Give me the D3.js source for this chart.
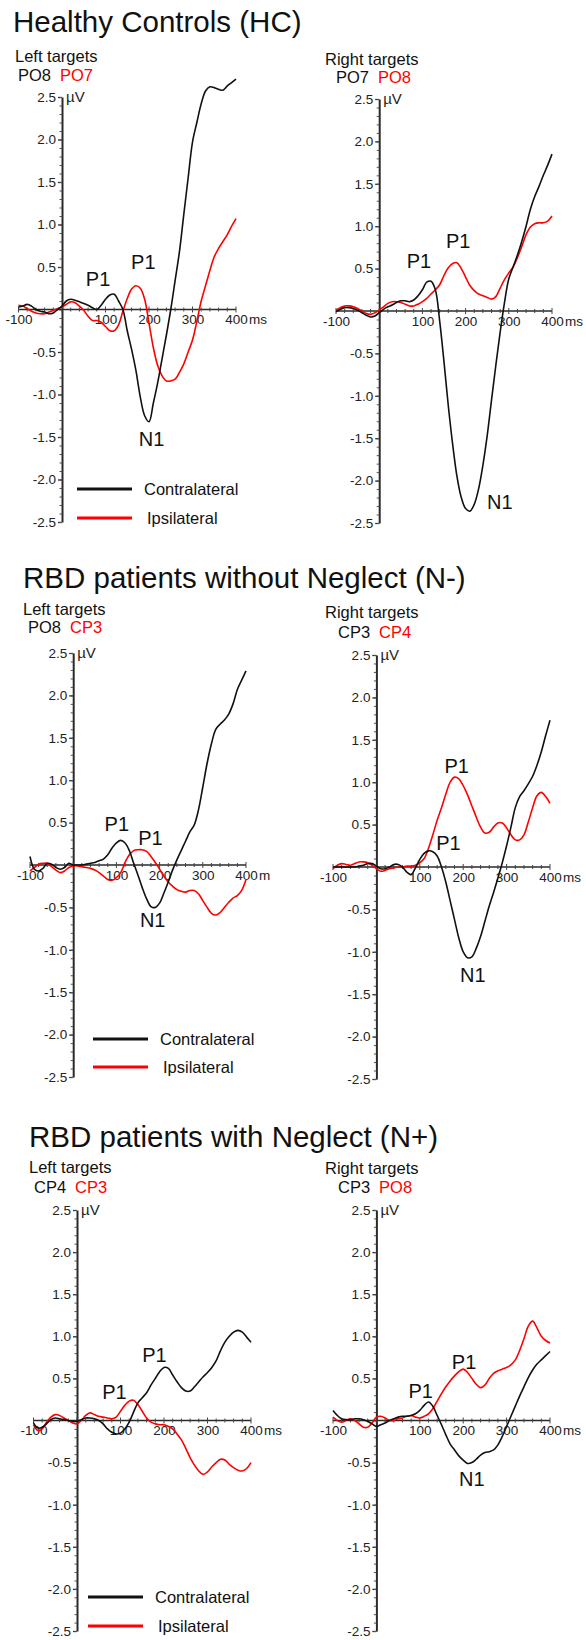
<!DOCTYPE html>
<html><head><meta charset="utf-8">
<script src="https://cdn.jsdelivr.net/npm/d3@7"></script>
<style>
body{margin:0;background:#fff}
svg{display:block}
text{font-family:"Liberation Sans",Arial,Helvetica,sans-serif}
</style>
</head><body>
<svg id="chart" width="586" height="1640"></svg>
<script>
// ---------- DATA ----------
const sampleMs = [-100,-90,-80,-70,-60,-50,-40,-30,-20,-10,0,10,20,30,40,50,60,70,80,90,100,110,120,130,140,150,160,170,180,190,200,210,220,230,240,250,260,270,280,290,300,310,320,330,340,350,360,370,380,390,400];

const groupTitles = ["Healthy Controls (HC)", "RBD patients without Neglect (N-)", "RBD patients with Neglect (N+)"];
const sideLabels = ["Left targets", "Right targets"];
const electrodePairs = [["PO8","PO7"],["PO7","PO8"],["PO8","CP3"],["CP3","CP4"],["CP4","CP3"],["CP3","PO8"]];
const legendLabels = ["Contralateral", "Ipsilateral"];
const yTickValues = [2.5,2.0,1.5,1.0,0.5,-0.5,-1.0,-1.5,-2.0,-2.5];
const xTickValues = [-100,100,200,300,400];
const timeUnits = ["ms","ms","m","ms","ms","ms"];

// Healthy controls
const hcLeftContra = [0.03,0.04,0.06,0.04,0.00,-0.02,-0.03,-0.05,-0.04,0.00,
 0.04,0.10,0.12,0.11,0.09,0.07,0.05,0.02,0.00,0.05,
 0.12,0.17,0.18,0.10,0.00,-0.25,-0.47,-0.72,-1.03,-1.25,
 -1.32,-1.10,-0.86,-0.58,-0.30,0.00,0.34,0.68,1.12,1.55,
 1.97,2.20,2.42,2.57,2.62,2.61,2.59,2.58,2.63,2.67,2.71];
const hcLeftIpsi = [0.05,0.04,0.01,-0.02,-0.04,-0.05,-0.05,-0.03,-0.01,0.01,
 0.03,0.06,0.09,0.08,0.04,-0.01,-0.08,-0.13,-0.13,-0.15,
 -0.20,-0.25,-0.25,-0.18,-0.02,0.13,0.24,0.28,0.25,0.12,
 -0.16,-0.45,-0.66,-0.78,-0.84,-0.84,-0.82,-0.74,-0.64,-0.50,
 -0.36,-0.14,0.10,0.28,0.46,0.62,0.72,0.80,0.88,0.98,1.07];
const hcRightContra = [-0.01,0.02,0.04,0.04,0.03,0.01,-0.02,-0.05,-0.07,-0.06,
 -0.02,0.02,0.05,0.07,0.10,0.12,0.12,0.11,0.13,0.18,
 0.25,0.34,0.35,0.25,-0.12,-0.60,-1.12,-1.57,-1.95,-2.20,
 -2.33,-2.36,-2.28,-2.10,-1.82,-1.47,-1.05,-0.64,-0.25,0.10,
 0.38,0.52,0.66,0.82,1.00,1.20,1.35,1.47,1.60,1.72,1.85];
const hcRightIpsi = [0.01,0.04,0.06,0.06,0.05,0.03,0.00,-0.03,-0.04,-0.02,
 0.01,0.05,0.09,0.11,0.11,0.10,0.08,0.06,0.06,0.08,
 0.11,0.15,0.20,0.25,0.31,0.42,0.51,0.56,0.57,0.50,
 0.40,0.30,0.24,0.20,0.18,0.16,0.14,0.17,0.27,0.37,
 0.45,0.52,0.63,0.76,0.90,0.99,1.03,1.04,1.04,1.06,1.12];

// RBD without neglect (N-)
const nmLeftContra = [0.10,-0.05,-0.07,-0.04,0.02,0.01,-0.03,-0.05,-0.03,0.02,
 0.00,0.00,0.00,0.01,0.02,0.03,0.05,0.07,0.12,0.20,
 0.26,0.29,0.26,0.17,0.02,-0.12,-0.27,-0.40,-0.49,-0.50,
 -0.45,-0.33,-0.20,-0.06,0.06,0.17,0.28,0.39,0.47,0.65,
 0.92,1.20,1.43,1.60,1.66,1.71,1.78,1.90,2.07,2.18,2.29];
const nmLeftIpsi = [-0.07,-0.03,0.01,0.02,0.02,-0.02,-0.06,-0.09,-0.07,-0.03,
 -0.01,-0.01,-0.02,-0.03,-0.04,-0.06,-0.09,-0.13,-0.17,-0.18,
 -0.15,-0.09,0.03,0.12,0.17,0.18,0.18,0.16,0.10,0.03,
 -0.05,-0.13,-0.20,-0.25,-0.29,-0.31,-0.32,-0.30,-0.30,-0.34,
 -0.42,-0.50,-0.57,-0.59,-0.56,-0.50,-0.44,-0.39,-0.36,-0.30,-0.17];
const nmRightContra = [0.00,0.00,0.00,0.00,0.00,0.00,0.01,0.02,0.04,0.04,
 0.01,-0.02,-0.02,0.00,0.03,0.03,0.00,-0.06,-0.09,-0.01,
 0.09,0.16,0.19,0.18,0.13,0.00,-0.18,-0.40,-0.62,-0.84,
 -1.00,-1.07,-1.06,-0.96,-0.82,-0.64,-0.46,-0.30,-0.13,0.05,
 0.25,0.47,0.70,0.83,0.90,0.98,1.07,1.20,1.36,1.55,1.73];
const nmRightIpsi = [-0.02,0.02,0.04,0.03,0.02,0.04,0.06,0.06,0.05,0.02,
 -0.02,-0.05,-0.04,-0.02,-0.01,0.00,0.00,0.01,0.01,0.02,
 0.05,0.10,0.22,0.38,0.55,0.70,0.86,1.00,1.06,1.04,
 0.96,0.85,0.72,0.59,0.47,0.40,0.41,0.47,0.52,0.52,
 0.46,0.38,0.32,0.32,0.38,0.53,0.70,0.84,0.88,0.83,0.75];

// RBD with neglect (N+)
const npLeftContra = [-0.03,-0.09,-0.08,-0.04,0.01,0.03,0.02,0.01,0.00,-0.01,
 -0.01,0.01,0.03,0.03,0.02,0.00,-0.04,-0.10,-0.14,-0.16,
 -0.15,-0.10,-0.02,0.10,0.21,0.27,0.33,0.42,0.50,0.58,
 0.63,0.62,0.54,0.46,0.39,0.35,0.35,0.40,0.46,0.52,
 0.57,0.63,0.71,0.83,0.93,1.00,1.05,1.07,1.05,0.99,0.93];
const npLeftIpsi = [-0.05,-0.12,-0.10,-0.02,0.04,0.07,0.06,0.03,0.00,-0.03,
 -0.04,0.00,0.06,0.09,0.07,0.05,0.04,0.03,0.02,0.04,
 0.11,0.18,0.23,0.24,0.19,0.11,0.03,-0.02,-0.04,-0.05,
 -0.05,-0.07,-0.10,-0.16,-0.23,-0.33,-0.44,-0.53,-0.60,-0.64,
 -0.61,-0.55,-0.50,-0.46,-0.47,-0.52,-0.56,-0.59,-0.60,-0.57,-0.50];
const npRightContra = [0.12,0.06,0.02,0.01,0.01,0.02,0.02,0.01,-0.01,-0.04,
 -0.07,-0.05,-0.03,0.00,0.02,0.04,0.05,0.05,0.06,0.08,
 0.12,0.18,0.22,0.17,0.06,-0.05,-0.17,-0.28,-0.35,-0.42,
 -0.47,-0.51,-0.50,-0.46,-0.41,-0.38,-0.37,-0.35,-0.29,-0.19,
 -0.07,0.05,0.17,0.29,0.40,0.51,0.60,0.67,0.72,0.77,0.82];
const npRightIpsi = [0.04,0.00,-0.02,0.00,0.02,0.00,-0.04,-0.08,-0.08,-0.03,
 0.04,0.05,0.03,0.00,0.00,0.02,0.03,0.05,0.06,0.04,
 0.03,0.05,0.08,0.14,0.23,0.32,0.40,0.47,0.53,0.58,
 0.61,0.57,0.50,0.43,0.39,0.42,0.50,0.56,0.59,0.61,
 0.63,0.66,0.72,0.83,0.97,1.12,1.18,1.10,1.00,0.95,0.92];

// ---------- LAYOUT ----------
const titlePos = [[13,32],[23,588],[29,1147]];
const panels = [
 {contra:hcLeftContra, ipsi:hcLeftIpsi, side:0, box:[18.5,236,97,522], sideAt:[15,62], elecAt:[18,81],
  legend:{x1:77,x2:132,y1:489,y2:518,t1:144,t2:147},
  peaks:[["P1",83,0.28],["P1",187,0.48],["N1",206,-1.6]]},
 {contra:hcRightContra, ipsi:hcRightIpsi, side:1, box:[336,552,99,523], sideAt:[325,65], elecAt:[336,83],
  peaks:[["P1",92,0.51],["P1",183,0.74],["N1",279,-2.33]]},
 {contra:nmLeftContra, ipsi:nmLeftIpsi, side:0, box:[30,246,653,1077], sideAt:[23,615], elecAt:[28,633],
  legend:{x1:93,x2:148,y1:1039,y2:1067,t1:160,t2:163},
  peaks:[["P1",101,0.4],["P1",179,0.24],["N1",184,-0.73]]},
 {contra:nmRightContra, ipsi:nmRightIpsi, side:1, box:[333,550,655,1079], sideAt:[325,618], elecAt:[338,638],
  peaks:[["P1",185,1.11],["P1",166,0.2],["N1",222,-1.36]]},
 {contra:npLeftContra, ipsi:npLeftIpsi, side:0, box:[33.5,251,1210,1631], sideAt:[29,1173], elecAt:[34,1193],
  legend:{x1:88,x2:143,y1:1597,y2:1626,t1:155,t2:158},
  peaks:[["P1",86,0.26],["P1",178,0.69]]},
 {contra:npRightContra, ipsi:npRightIpsi, side:1, box:[333,550,1210,1631], sideAt:[325,1174], elecAt:[338,1193],
  peaks:[["P1",102,0.27],["P1",202,0.61],["N1",220,-0.78]]}
];

const RED = "#ff0000", BLACK = "#111", AXIS = "#2a2a2a";
const svg = d3.select("#chart");
svg.append("rect").attr("width",586).attr("height",1640).attr("fill","#fff");

groupTitles.forEach((t,i)=>{
  svg.append("text").attr("x",titlePos[i][0]).attr("y",titlePos[i][1])
    .attr("font-size",29.5).attr("fill",BLACK).text(t);
});

panels.forEach((p,pi)=>{
  const [xl,xr,top,bottom] = p.box;
  const x = d3.scaleLinear().domain([-100,400]).range([xl,xr]);
  const y = d3.scaleLinear().domain([-2.5,2.5]).range([bottom,top]);
  const g = svg.append("g");
  const x0 = x(0), y0 = y(0);

  // side label & electrodes
  g.append("text").attr("x",p.sideAt[0]).attr("y",p.sideAt[1]).attr("font-size",16.5).attr("fill",BLACK).text(sideLabels[p.side]);
  const et = g.append("text").attr("x",p.elecAt[0]).attr("y",p.elecAt[1]).attr("font-size",16.5);
  et.append("tspan").attr("fill",BLACK).text(electrodePairs[pi][0]);
  et.append("tspan").attr("fill",RED).attr("dx",9).text(electrodePairs[pi][1]);

  // y axis (major, labelled)
  const yAx = d3.axisLeft(y).tickValues(yTickValues).tickFormat(d=>d.toFixed(1)).tickSize(4).tickSizeOuter(0).tickPadding(2);
  const ya = g.append("g").attr("transform",`translate(${x0},0)`).call(yAx);
  ya.select(".domain").attr("stroke",AXIS).attr("stroke-width",2);
  ya.selectAll(".tick line").attr("stroke",AXIS).attr("stroke-width",1.3);
  ya.selectAll(".tick text").attr("font-size",13.5).attr("fill","#222")
    .attr("font-family","'Liberation Sans',Arial,sans-serif");
  // minor ticks every 0.1 µV
  const minorY = d3.range(-25,26).map(i=>i/10);
  const yMin = d3.axisLeft(y).tickValues(minorY).tickFormat("").tickSize(2.5).tickSizeOuter(0);
  const ym = g.append("g").attr("transform",`translate(${x0},0)`).call(yMin);
  ym.select(".domain").remove();
  ym.selectAll(".tick line").attr("stroke","#555").attr("stroke-width",1);
  g.append("text").attr("x",x0+4).attr("y",y(2.5)).attr("dy","0.36em").attr("font-size",15).attr("fill","#222").text("µV");

  // x axis
  g.append("line").attr("x1",x(-100)).attr("x2",x(400)).attr("y1",y0).attr("y2",y0).attr("stroke",AXIS).attr("stroke-width",1.5);
  const minorX = d3.range(-100,401,20);
  g.selectAll(".xmin").data(minorX).join("line")
    .attr("x1",d=>x(d)).attr("x2",d=>x(d))
    .attr("y1",d=>y0-(d%100===0?3:2)).attr("y2",d=>y0+(d%100===0?3:2))
    .attr("stroke","#444").attr("stroke-width",1);
  const xAx = d3.axisBottom(x).tickValues(xTickValues).tickFormat(d=>String(d)).tickSize(0).tickPadding(5);
  const xa = g.append("g").attr("transform",`translate(0,${y0})`).call(xAx);
  xa.select(".domain").remove();
  xa.selectAll(".tick text").attr("font-size",13.5).attr("fill","#222")
    .attr("font-family","'Liberation Sans',Arial,sans-serif");
  g.append("text").attr("x",x(400)+13).attr("y",y0+5).attr("dy","0.71em").attr("font-size",13.5).attr("fill","#222").text(timeUnits[pi]);

  // curves
  const line = d3.line().x((d,i)=>x(sampleMs[i])).y(d=>y(d)).curve(d3.curveCatmullRom.alpha(0.5));
  g.append("path").datum(p.ipsi).attr("d",line).attr("fill","none").attr("stroke",RED).attr("stroke-width",1.6);
  g.append("path").datum(p.contra).attr("d",line).attr("fill","none").attr("stroke",BLACK).attr("stroke-width",1.6);

  // peak labels
  p.peaks.forEach(([t,ms,uv])=>{
    g.append("text").attr("x",x(ms)).attr("y",y(uv)).attr("text-anchor","middle")
      .attr("font-size",20).attr("fill",BLACK).text(t);
  });

  // legend
  if (p.legend) {
    const L = p.legend;
    g.append("line").attr("x1",L.x1).attr("x2",L.x2).attr("y1",L.y1).attr("y2",L.y1).attr("stroke",BLACK).attr("stroke-width",3.2);
    g.append("text").attr("x",L.t1).attr("y",L.y1+6).attr("font-size",16.5).attr("fill",BLACK).text(legendLabels[0]);
    g.append("line").attr("x1",L.x1).attr("x2",L.x2).attr("y1",L.y2).attr("y2",L.y2).attr("stroke",RED).attr("stroke-width",3.2);
    g.append("text").attr("x",L.t2).attr("y",L.y2+6).attr("font-size",16.5).attr("fill",BLACK).text(legendLabels[1]);
  }
});
</script>
</body></html>
